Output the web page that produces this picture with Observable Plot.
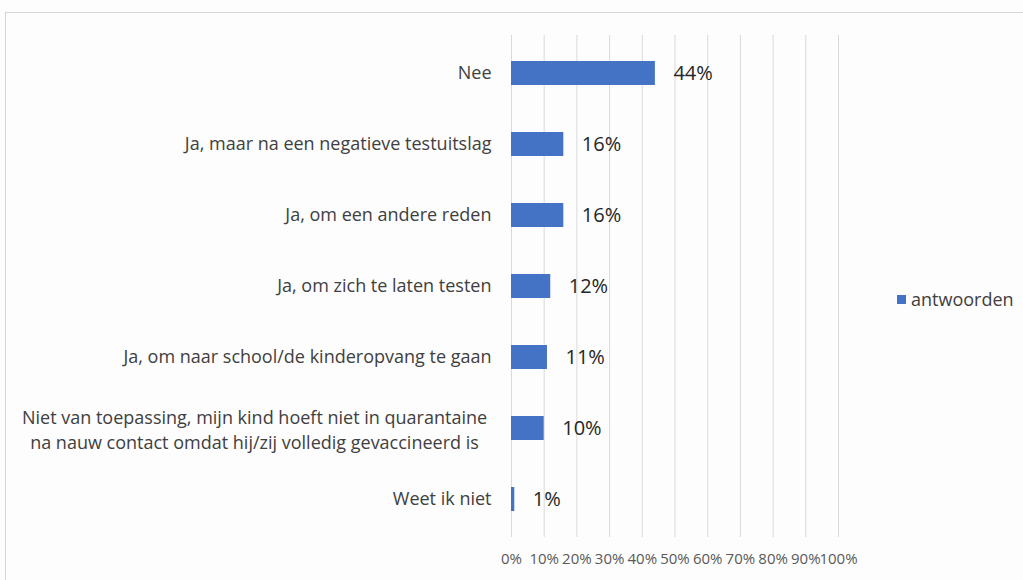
<!DOCTYPE html>
<html>
<head>
<meta charset="utf-8">
<script src="https://cdn.jsdelivr.net/npm/d3@7"></script>
<script src="https://cdn.jsdelivr.net/npm/@observablehq/plot@0.6"></script>
<style>
  html, body { margin: 0; padding: 0; background: #fdfdfd; }
  #wrap { position: relative; width: 1023px; height: 580px; overflow: hidden; }
  #frame { position: absolute; left: 5px; top: 12px; width: 1030px; height: 580px; border: 1px solid #d6d6d6; box-sizing: border-box; pointer-events: none; }
  #legend { position: absolute; left: 897px; top: 287px; font: 18px "Open Sans", sans-serif; color: #404040; display: flex; align-items: center; gap: 5px; }
  #legend span.sw { width: 9px; height: 9px; background: #4472c4; display: inline-block; }
  svg { position: absolute; left: 0; top: 0; }
</style>
</head>
<body>
<div id="wrap">
  <div id="chart"></div>
  <div id="frame"></div>
  <div id="legend"><span class="sw"></span><span id="legendLabel"></span></div>
</div>
<script>
const categories = [
  "Nee",
  "Ja, maar na een negatieve testuitslag",
  "Ja, om een andere reden",
  "Ja, om zich te laten testen",
  "Ja, om naar school/de kinderopvang te gaan",
  "Niet van toepassing, mijn kind hoeft niet in quarantaine\nna nauw contact omdat hij/zij volledig gevaccineerd is",
  "Weet ik niet"
];
const values = [44, 16, 16, 12, 11, 10, 1];
const xTicks = [0, 10, 20, 30, 40, 50, 60, 70, 80, 90, 100];
const seriesName = "antwoorden";

const data = categories.map((c, i) => ({cat: c, value: values[i]}));
const single = data.filter(d => !d.cat.includes("\n"));
const multi = data.filter(d => d.cat.includes("\n"));

document.getElementById("legendLabel").textContent = seriesName;

const chart = Plot.plot({
  width: 1023,
  height: 580,
  marginLeft: 511,
  marginRight: 185,
  marginTop: 35,
  marginBottom: 43,
  style: {background: "transparent", fontFamily: "Open Sans, sans-serif"},
  x: {domain: [0, 100], ticks: xTicks},
  y: {domain: categories, paddingInner: 0.66, paddingOuter: 0.33, axis: null},
  marks: [
    Plot.ruleX(xTicks, {stroke: "#d9d9d9", strokeWidth: 1}),
    Plot.axisX({ticks: xTicks, tickSize: 0, tickPadding: 16, tickFormat: d => d + "%", fontSize: 15, fill: "#595959", anchor: "bottom", label: null}),
    Plot.barX(data, {y: "cat", x: "value", fill: "#4472c4"}),
    Plot.text(single, {y: "cat", text: "cat", frameAnchor: "left", textAnchor: "end", dx: -20, fontSize: 18, fill: "#404040"}),
    Plot.text(multi, {y: "cat", text: "cat", frameAnchor: "left", textAnchor: "middle", dx: -257, fontSize: 18, fill: "#404040", lineHeight: 1.4}),
    Plot.text(data, {y: "cat", x: "value", text: d => d.value + "%", textAnchor: "start", dx: 18, fontSize: 20, fill: "#262626", fontWeight: d => d.value === 44 ? "bold" : "normal"})
  ]
});
document.getElementById("chart").appendChild(chart);
</script>
</body>
</html>
